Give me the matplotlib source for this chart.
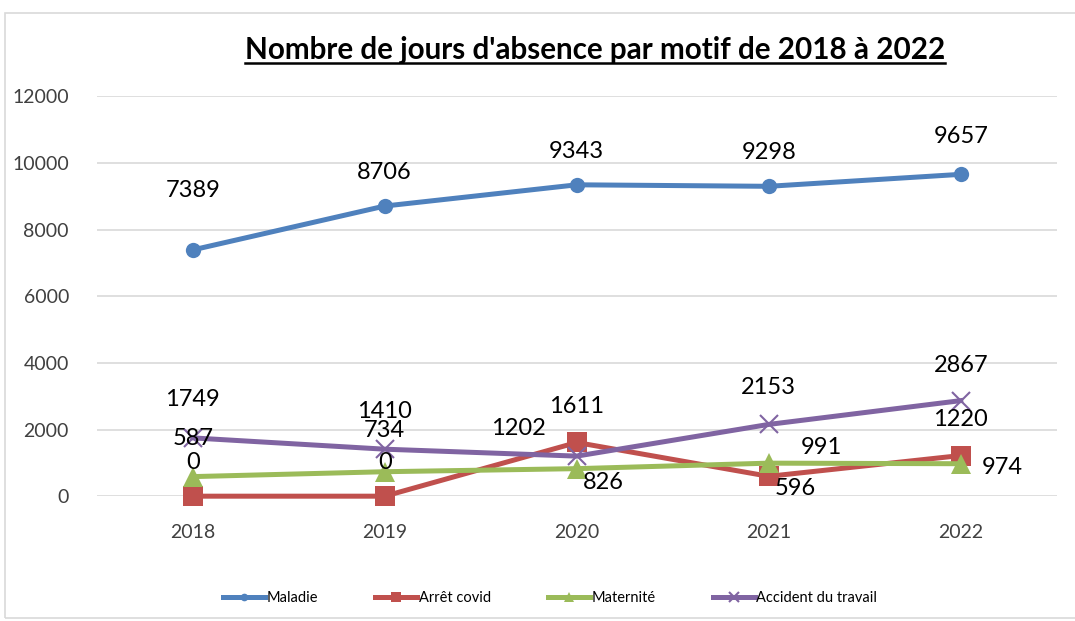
import matplotlib.pyplot as plt
from matplotlib.lines import Line2D
from matplotlib.patches import Rectangle

plt.rcParams['font.family'] = ['Lato', 'DejaVu Sans']

years = ['2018', '2019', '2020', '2021', '2022']
maladie = [7389, 8706, 9343, 9298, 9657]
covid = [0, 0, 1611, 596, 1220]
maternite = [587, 734, 826, 991, 974]
accident = [1749, 1410, 1202, 2153, 2867]

# label offsets in pixels (dx, dy) for each point
off_maladie = [(0, 59), (0, 34), (0, 33), (0, 34), (0, 38)]
off_covid = [(0, 34), (0, 34), (0, 36), (27, -12), (0, 36)]
off_maternite = [(0, 38), (0, 41), (27, -14), (53, 16), (42, -4)]
off_accident = [(0, 38), (0, 38), (-58, 28), (0, 37), (0, 35)]

series = [
    ('Maladie', maladie, '#4F81BD', 'o', 11, off_maladie),
    ('Arrêt covid', covid, '#C0504D', 's', 14, off_covid),
    ('Maternité', maternite, '#9BBB59', '^', 15, off_maternite),
    ('Accident du travail', accident, '#8064A2', 'x', 13, off_accident),
]

fig = plt.figure(figsize=(10.75, 6.21), dpi=100)
ax = fig.add_axes([0.090, 0.201, 0.893, 0.644])
x = list(range(len(years)))

for name, vals, col, mk, ms, offs in series:
    ax.plot(x, vals, color=col, lw=3.6, marker=mk, ms=ms, mew=1.5 if mk == 'x' else 0,
            mec=col, label=name, zorder=3, clip_on=False)
    for xi, v, (dx, dy) in zip(x, vals, offs):
        ax.annotate(str(v), (xi, v), xytext=(dx, dy), textcoords='offset pixels',
                    ha='center', va='center', fontsize=17, color='black', zorder=5)

ax.set_xlim(-0.5, 4.5)
ax.set_ylim(0, 12000)
ax.set_yticks(range(0, 12001, 2000))
ax.set_xticks(x)
ax.set_xticklabels(years)
ax.tick_params(length=0, labelsize=14, labelcolor='#404040', pad=20)
ax.tick_params(axis='y', pad=20)
ax.grid(axis='y', color='#D9D9D9', lw=1.2)
ax.set_axisbelow(True)
for s in ax.spines.values():
    s.set_visible(False)

ax.legend(loc='center', bbox_to_anchor=(550 / 1075, 1 - 598 / 621), bbox_transform=fig.transFigure,
          ncol=4, frameon=False, fontsize=10.5, handlelength=2.9, handletextpad=0.1,
          columnspacing=3.9, markerscale=0.5)

title = fig.text(595 / 1075, 1 - 50 / 621, "Nombre de jours d'absence par motif de 2018 à 2022",
                 ha='center', va='center', fontsize=21.3, fontweight='bold')

fig.patches.append(Rectangle((5 / 1075, 3 / 621), 1.1, 1 - 16 / 621, transform=fig.transFigure,
                             fill=False, ec='#D9D9D9', lw=1.2))

fig.canvas.draw()
bb = title.get_window_extent().transformed(fig.transFigure.inverted())
fig.lines.append(Line2D([bb.x0, bb.x1], [bb.y0 + 0.002, bb.y0 + 0.002], transform=fig.transFigure,
                        color='black', lw=1.8))

fig.savefig('out.png', dpi=100)
